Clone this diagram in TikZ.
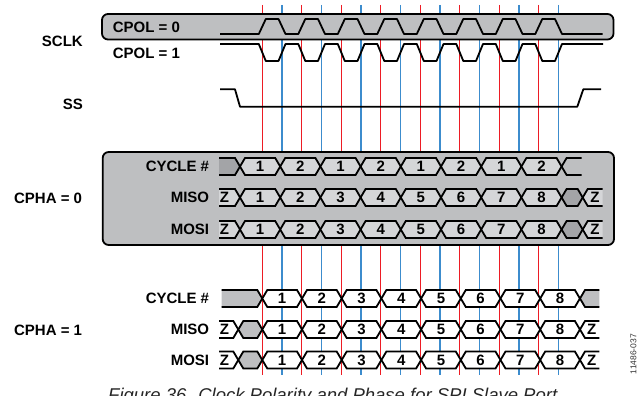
\documentclass[tikz,border=0pt]{standalone}
\usepackage{fontspec}
\setmainfont{Liberation Sans}
\definecolor{boxgray}{RGB}{190,191,193}
\definecolor{cellgray}{RGB}{213,214,216}
\definecolor{darkgray}{RGB}{163,164,167}
\definecolor{clkred}{RGB}{237,28,36}
\definecolor{clkblue}{RGB}{60,140,205}
\newcommand\slantw{5}
\newcommand\halfh{8.5}
\newcommand\hexcell[4]{% style, x1, x2, y
  \draw[#1] (#2,#4) -- ({#2+\slantw},{#4-\halfh}) -- ({#3-\slantw},{#4-\halfh}) -- (#3,#4) -- ({#3-\slantw},{#4+\halfh}) -- ({#2+\slantw},{#4+\halfh}) -- cycle;}
\tikzset{
  wave/.style={line width=1.8pt, line join=round},
  lbl/.style={font=\bfseries\fontsize{15}{18}\selectfont, inner sep=0pt},
  frame/.style={draw=black, line width=1.8pt, fill=boxgray, rounded corners=6pt},
  cellA/.style={draw=black, line width=1.8pt, fill=cellgray},
  cellD/.style={draw=black, line width=1.8pt, fill=darkgray},
  cellW/.style={draw=black, line width=1.8pt, fill=white},
  cellG/.style={draw=black, line width=1.8pt, fill=boxgray},
  openA/.style={draw=black, line width=1.8pt},
  redline/.style={draw=clkred, line width=1.2pt},
  blueline/.style={draw=clkblue, line width=1.2pt}
}
\begin{document}
\begin{tikzpicture}[x=1pt,y=-1pt]
\useasboundingbox (0,0) rectangle (638,396);
% clock reference lines
\foreach \k in {0,...,7}{
  \draw[redline] ({262.3+39.5*\k},5) -- ({262.3+39.5*\k},375);
  \draw[blueline] ({282+39.5*\k},5) -- ({282+39.5*\k},375);
}
% CPOL = 0 frame
\draw[frame] (102,14) rectangle (613.5,39.5);
% SCLK waveforms
\draw[wave] (220,34) \foreach \k in {0,...,7}{
  -- ({262.3+39.5*\k-3.5},34) -- ({262.3+39.5*\k+3.5},19)
  -- ({282+39.5*\k-3.5},19) -- ({282+39.5*\k+3.5},34)} -- (602.7,34);
\draw[wave] (220,44) \foreach \k in {0,...,7}{
  -- ({262.3+39.5*\k-3.5},44) -- ({262.3+39.5*\k+3.5},61)
  -- ({282+39.5*\k-3.5},61) -- ({282+39.5*\k+3.5},44)} -- (603,44);
% SS
\draw[wave] (220,89.3) -- (235,89.3) -- (240,106.7) -- (577.3,106.7) -- (583.3,89.3) -- (601,89.3);
% labels
\node[lbl, anchor=east] (sclk) at (83,41.7) {SCLK};
\node[lbl, anchor=east] (ss) at (83,104) {SS};
\node[lbl, anchor=west] (cpol0) at (112.7,27.3) {CPOL = 0};
\node[lbl, anchor=west] (cpol1) at (112.7,53.3) {CPOL = 1};
\node[lbl, anchor=east] (cpha0) at (82.3,198) {CPHA = 0};
\node[lbl, anchor=east] (cpha1) at (82.3,330) {CPHA = 1};

% ---------- CPHA = 0 ----------
\draw[frame] (102.7,152) rectangle (614,245);
\node[lbl, anchor=east] (cyc0l) at (209.3,166.5) {CYCLE \#};
\node[lbl, anchor=east] (miso0l) at (209.3,197.5) {MISO};
\node[lbl, anchor=east] (mosi0l) at (209.3,229.5) {MOSI};
% cycle row
\draw[cellD] (219,158) -- (235,158) -- (240,166.5) -- (235,175) -- (219,175);
\foreach \k in {0,...,7}{
  \pgfmathsetmacro\xa{240+40.2*\k}
  \pgfmathsetmacro\xb{240+40.2*(\k+1)}
  \pgfmathsetmacro\lab{int(mod(\k,2)+1)}
  \hexcell{cellA}{\xa}{\xb}{166.5}
  \node[lbl] (cyc0-\k) at ({(\xa+\xb)/2},166.5) {\lab};
}
\draw[openA] (581.7,158) -- (566.6,158) -- (561.6,166.5) -- (566.6,175) -- (581.7,175);
% MISO / MOSI rows
\foreach \y/\nm in {197.5/miso0, 229.5/mosi0}{
  \draw[cellA] (219,{\y-\halfh}) -- (235,{\y-\halfh}) -- (240,\y) -- (235,{\y+\halfh}) -- (219,{\y+\halfh});
  \node[lbl] (\nm-zs) at (224.5,\y) {Z};
  \foreach \k in {0,...,7}{
    \pgfmathsetmacro\xa{240+40.2*\k}
    \pgfmathsetmacro\xb{240+40.2*(\k+1)}
    \pgfmathsetmacro\lab{int(\k+1)}
    \hexcell{cellA}{\xa}{\xb}{\y}
    \node[lbl] (\nm-\k) at ({(\xa+\xb)/2},\y) {\lab};
  }
  \hexcell{cellD}{561.6}{582.7}{\y}
  \draw[cellA] (602.7,{\y-\halfh}) -- (587.7,{\y-\halfh}) -- (582.7,\y) -- (587.7,{\y+\halfh}) -- (602.7,{\y+\halfh});
  \node[lbl] (\nm-ze) at (595,\y) {Z};
}

% ---------- CPHA = 1 ----------
\node[lbl, anchor=east] (cyc1l) at (209.3,298.5) {CYCLE \#};
\node[lbl, anchor=east] (miso1l) at (209.3,329.5) {MISO};
\node[lbl, anchor=east] (mosi1l) at (209.3,360) {MOSI};
% cycle row
\draw[cellG] (221.7,290) -- (257.3,290) -- (262.3,298.5) -- (257.3,307) -- (221.7,307);
\foreach \k in {0,...,7}{
  \pgfmathsetmacro\xa{262.3+39.7*\k}
  \pgfmathsetmacro\xb{262.3+39.7*(\k+1)}
  \pgfmathsetmacro\lab{int(\k+1)}
  \hexcell{cellW}{\xa}{\xb}{298.5}
  \node[lbl] (cyc1-\k) at ({(\xa+\xb)/2},298.5) {\lab};
}
\draw[cellG] (599.3,290) -- (585,290) -- (580,298.5) -- (585,307) -- (599.3,307);
% MISO / MOSI rows
\foreach \y/\nm in {329.5/miso1, 360/mosi1}{
  \draw[cellW] (219,{\y-\halfh}) -- (233.3,{\y-\halfh}) -- (238.3,\y) -- (233.3,{\y+\halfh}) -- (219,{\y+\halfh});
  \node[lbl] (\nm-zs) at (224.5,\y) {Z};
  \hexcell{cellG}{238.3}{262.3}{\y}
  \foreach \k in {0,...,7}{
    \pgfmathsetmacro\xa{262.3+39.7*\k}
    \pgfmathsetmacro\xb{262.3+39.7*(\k+1)}
    \pgfmathsetmacro\lab{int(\k+1)}
    \hexcell{cellW}{\xa}{\xb}{\y}
    \node[lbl] (\nm-\k) at ({(\xa+\xb)/2},\y) {\lab};
  }
  \draw[cellW] (599.3,{\y-\halfh}) -- (585,{\y-\halfh}) -- (580,\y) -- (585,{\y+\halfh}) -- (599.3,{\y+\halfh});
  \node[lbl] (\nm-ze) at (591.7,\y) {Z};
}

% caption and figure code
\node[font=\itshape\fontsize{18.5}{22}\selectfont, text=black!85, inner sep=0pt, anchor=base west] (caption) at (108,401) {Figure 36. Clock Polarity and Phase for SPI Slave Port};
\node[font=\fontsize{8.5}{10}\selectfont, text=black!80, inner sep=0pt, rotate=90] (code) at (633.5,354) {11486-037};
\end{tikzpicture}
\end{document}
